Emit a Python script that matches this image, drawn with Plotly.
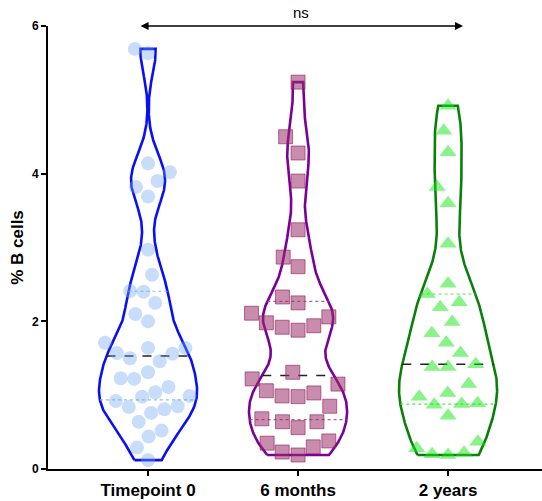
import numpy as np
import plotly.graph_objects as go

categories = ["Timepoint 0", "6 months", "2 years"]

timepoint0 = [5.69, 5.63, 4.14, 4.02, 3.90, 3.82, 3.69, 2.97, 2.63, 2.41, 2.40, 2.25,
              2.10, 2.00, 1.71, 1.64, 1.64, 1.57, 1.56, 1.50, 1.46, 1.31, 1.23, 1.22,
              1.11, 1.04, 0.99, 0.98, 0.92, 0.85, 0.84, 0.81, 0.76, 0.64, 0.52, 0.44,
              0.29, 0.12]
months6 = [5.24, 4.50, 4.28, 3.90, 3.24, 2.87, 2.74, 2.33, 2.25, 2.11, 2.06, 1.98,
           1.94, 1.92, 1.88, 1.31, 1.22, 1.15, 1.06, 1.03, 0.99, 0.98, 0.85, 0.68,
           0.64, 0.64, 0.56, 0.38, 0.35, 0.30, 0.23, 0.19]
years2 = [4.92, 4.58, 4.29, 3.82, 3.60, 3.05, 2.51, 2.37, 2.26, 2.19, 1.99, 1.84,
          1.71, 1.57, 1.42, 1.38, 1.38, 1.15, 1.03, 0.98, 0.89, 0.88, 0.87, 0.72,
          0.37, 0.28, 0.22, 0.20, 0.19]

y_ticks = [0, 2, 4, 6]
sig_label = "ns"

groups = [timepoint0, months6, years2]
line_colors = ["#0a10f5", "#7a0099", "#0a800a"]
marker_fill = ["rgba(110,165,240,0.38)", "rgba(155,45,105,0.55)", "rgba(20,230,20,0.5)"]
marker_line = ["rgba(110,165,240,0.0)", "rgba(140,30,90,0.6)", "rgba(20,230,20,0.0)"]
quart_colors = ["rgba(130,180,245,0.9)", "rgba(170,80,130,0.9)", "rgba(60,230,60,0.9)"]
symbols = ["circle", "square", "triangle-up"]
marker_sizes = [14, 14, 15]
bandwidths = [0.31, 0.33, 0.40]
swarm_d = [13.5, 16.0, 16.0]
swarm_s = [0.62, 0.62, 0.72]

# pixel geometry
W, H = 542, 501
ML, MR, MT, MB = 48, 0, 26, 32
PX_PER_CAT = 150.0
x_lo = -0.667
x_hi = x_lo + (W - ML - MR) / PX_PER_CAT
PX_PER_Y = (H - MT - MB) / 6.0
HALF_W = 0.327


def kde(vals, grid, bw):
    v = np.asarray(vals)[:, None]
    return np.exp(-0.5 * ((grid[None, :] - v) / bw) ** 2).sum(axis=0)


def beeswarm(vals, D, s):
    order = np.argsort(vals)
    placed = []
    xs = np.zeros(len(vals))
    for i in order:
        yi = vals[i] * PX_PER_Y
        intervals = []
        for (xj, yj) in placed:
            dy = abs(yi - yj) * s
            if dy < D:
                dx = np.sqrt(D * D - dy * dy)
                intervals.append((xj - dx, xj + dx))
        cands = [0.0] + [e for iv in intervals for e in iv]
        cands.sort(key=lambda c: (round(abs(c), 6), c))
        best = 0.0
        for c in cands:
            if all(not (a + 1e-6 < c < b - 1e-6) for a, b in intervals):
                best = c
                break
        xs[i] = best
        placed.append((best, yi))
    return xs / PX_PER_CAT


fig = go.Figure()

for k, vals in enumerate(groups):
    vals = np.asarray(vals, dtype=float)
    lo, hi = vals.min(), vals.max()
    grid = np.linspace(lo, hi, 300)
    dens = kde(vals, grid, bandwidths[k])
    w = HALF_W * dens / dens.max()
    px = np.concatenate([k - w, (k + w)[::-1], [k - w[0]]])
    py = np.concatenate([grid, grid[::-1], [grid[0]]])
    fig.add_trace(go.Scatter(x=px, y=py, mode="lines",
                             line=dict(color=line_colors[k], width=2.6),
                             hoverinfo="skip", showlegend=False))
    q1, med, q3 = np.percentile(vals, [25, 50, 75])
    for q, dash, col, lw in [(q1, "dot", quart_colors[k], 1.2),
                             (q3, "dot", quart_colors[k], 1.2),
                             (med, "dash", "#222222", 1.5)]:
        wq = HALF_W * kde(vals, np.array([q]), bandwidths[k])[0] / dens.max()
        fig.add_trace(go.Scatter(x=[k - wq, k + wq], y=[q, q], mode="lines",
                                 line=dict(color=col, width=lw, dash=dash),
                                 hoverinfo="skip", showlegend=False))

for k, vals in enumerate(groups):
    vals = np.asarray(vals, dtype=float)
    offs = beeswarm(vals, swarm_d[k], swarm_s[k])
    fig.add_trace(go.Scatter(
        x=k + offs, y=vals, mode="markers",
        marker=dict(symbol=symbols[k], size=marker_sizes[k],
                    color=marker_fill[k],
                    line=dict(color=marker_line[k], width=1)),
        name=categories[k], showlegend=False, cliponaxis=False))

# significance arrow
fig.add_annotation(x=2.10, y=6, ax=-0.06, ay=6, xref="x", yref="y",
                   axref="x", ayref="y", text="", showarrow=True,
                   arrowhead=2, arrowside="end+start", arrowsize=1.0,
                   arrowwidth=1.6, arrowcolor="black")
fig.add_annotation(x=1.02, y=6, xref="x", yref="y", text=sig_label,
                   showarrow=False, yshift=14,
                   font=dict(family="Liberation Sans, Arial", size=15, color="black"))

fig.update_layout(
    width=W, height=H,
    margin=dict(l=ML, r=MR, t=MT, b=MB, autoexpand=False),
    paper_bgcolor="white", plot_bgcolor="white",
    font=dict(family="Liberation Sans, Arial", color="black"),
    xaxis=dict(range=[x_lo, x_hi], tickvals=[0, 1, 2], ticktext=categories,
               showgrid=False, zeroline=False, showline=True, linecolor="black",
               linewidth=2, ticks="outside", ticklen=5, tickwidth=1.5,
               tickcolor="black", automargin=False,
               tickfont=dict(size=17, family="Liberation Sans, Arial", weight="bold")),
    yaxis=dict(range=[0, 6], tickvals=y_ticks, showgrid=False, zeroline=False,
               showline=True, linecolor="black", linewidth=2, ticks="outside",
               ticklen=5, tickwidth=2, tickcolor="black", automargin=False,
               tickfont=dict(size=12, family="Liberation Sans, Arial", weight="bold"),
               title=dict(text="% B cells", standoff=4,
                          font=dict(size=17, family="Liberation Sans, Arial",
                                    weight="bold"))),
)

fig.write_html("out.html", config={"displayModeBar": False},
               post_script="document.body.style.margin='0';"
                           "document.body.style.overflow='hidden';")
